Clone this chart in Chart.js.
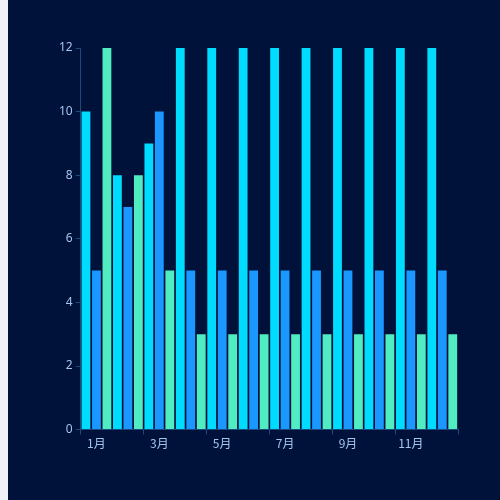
<!DOCTYPE html>
<html>
<head>
<meta charset="utf-8">
<script src="https://cdn.jsdelivr.net/npm/chart.js@4"></script>
<style>
  html, body { margin: 0; padding: 0; background: #f0f2f8; }
  #wrap { position: absolute; left: 8px; top: 0; width: 492px; height: 500px; background: #00113a; }
</style>
</head>
<body>
<div id="wrap"><canvas id="barChart"></canvas></div>
<script>
const months = ['1月', '2月', '3月', '4月', '5月', '6月', '7月', '8月', '9月', '10月', '11月', '12月'];
const cyanValues = [10, 8, 9, 12, 12, 12, 12, 12, 12, 12, 12, 12];
const blueValues = [5, 7, 10, 5, 5, 5, 5, 5, 5, 5, 5, 5];
const greenValues = [12, 8, 5, 3, 3, 3, 3, 3, 3, 3, 3, 3];
const yTicks = [0, 2, 4, 6, 8, 10, 12];

const axisColor = '#1b4a7e';
const labelColor = '#a3c6ee';

function makeSet(data, color) {
    return {
        data: data,
        backgroundColor: color,
        borderWidth: 0,
        barPercentage: 0.84,
        categoryPercentage: 1
    };
}

const ctx = document.getElementById('barChart').getContext('2d');
const myChart = new Chart(ctx, {
    type: 'bar',
    data: {
        labels: months,
        datasets: [
            makeSet(cyanValues, '#00dcff'),
            makeSet(blueValues, '#1a98ff'),
            makeSet(greenValues, '#50ecc2')
        ]
    },
    options: {
        responsive: true,
        maintainAspectRatio: false,
        animation: false,
        layout: { padding: { left: 48, right: 42, top: 48, bottom: 47 } },
        plugins: {
            legend: { display: false },
            tooltip: { enabled: false }
        },
        scales: {
            x: {
                offset: true,
                grid: {
                    offset: true,
                    drawOnChartArea: false,
                    tickLength: 5,
                    color: (c) => (c.index === undefined || c.index % 2 === 0) ? axisColor : 'transparent'
                },
                border: { color: axisColor },
                ticks: {
                    autoSkip: false,
                    maxRotation: 0,
                    color: labelColor,
                    padding: 2,
                    font: { size: 12, family: '"Noto Sans CJK SC", "Noto Sans", sans-serif' },
                    callback: (v, i) => i % 2 === 0 ? months[i] : ''
                }
            },
            y: {
                min: yTicks[0],
                max: yTicks[yTicks.length - 1],
                afterBuildTicks: (axis) => { axis.ticks = yTicks.map(v => ({ value: v })); },
                grid: { drawOnChartArea: false, tickLength: 5, color: axisColor },
                border: { color: axisColor },
                ticks: {
                    color: labelColor,
                    padding: 3,
                    font: { size: 12, family: '"Noto Sans", sans-serif' }
                }
            }
        }
    }
});
</script>
</body>
</html>
